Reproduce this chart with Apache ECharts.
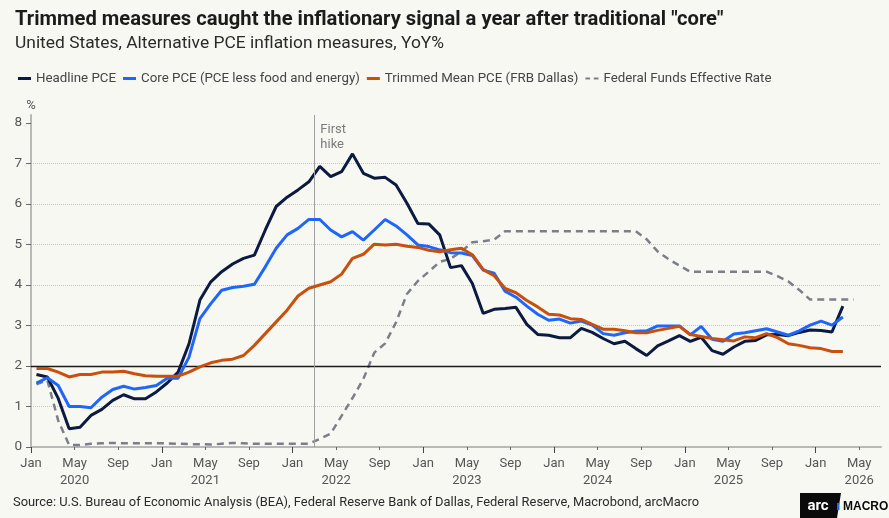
<!DOCTYPE html>
<html>
<head>
<meta charset="utf-8">
<script src="https://cdn.jsdelivr.net/npm/echarts@6/dist/echarts.min.js"></script>
<style>
  html, body { margin: 0; padding: 0; background: #f8f8f3; }
  #chart { width: 889px; height: 518px; }
</style>
</head>
<body>
<div id="chart"></div>
<script>
// Alternative PCE inflation measures vs fed funds, monthly from Jan 2020
const startYear = 2020;
const monthNames = ['Jan','Feb','Mar','Apr','May','Jun','Jul','Aug','Sep','Oct','Nov','Dec'];

// YoY %, Jan 2020 .. Mar 2026
const headline = [
  1.79, 1.73, 1.20, 0.45, 0.49, 0.78, 0.93, 1.15, 1.29, 1.19, 1.19, 1.36,
  1.58, 1.85, 2.55, 3.63, 4.08, 4.33, 4.52, 4.66, 4.74, 5.36, 5.94, 6.17,
  6.35, 6.55, 6.93, 6.68, 6.80, 7.24, 6.76, 6.64, 6.66, 6.47, 6.02, 5.52,
  5.51, 5.24, 4.43, 4.48, 4.04, 3.30, 3.40, 3.42, 3.45, 3.03, 2.78, 2.76,
  2.70, 2.70, 2.93, 2.83, 2.68, 2.55, 2.61, 2.43, 2.26, 2.50, 2.62, 2.75,
  2.61, 2.71, 2.38, 2.29, 2.47, 2.61, 2.63, 2.77, 2.78, 2.75, 2.83, 2.89,
  2.88, 2.84, 3.48
];
const core = [
  1.58, 1.71, 1.52, 1.00, 1.00, 0.97, 1.23, 1.42, 1.50, 1.43, 1.47, 1.52,
  1.70, 1.70, 2.22, 3.17, 3.54, 3.87, 3.94, 3.97, 4.02, 4.45, 4.91, 5.24,
  5.40, 5.62, 5.62, 5.36, 5.19, 5.32, 5.11, 5.36, 5.62, 5.46, 5.24, 4.99,
  4.95, 4.87, 4.80, 4.79, 4.73, 4.37, 4.29, 3.85, 3.70, 3.48, 3.28, 3.13,
  3.16, 3.06, 3.11, 3.01, 2.80, 2.76, 2.82, 2.86, 2.87, 2.99, 2.99, 2.99,
  2.77, 2.98, 2.66, 2.61, 2.79, 2.82, 2.87, 2.92, 2.84, 2.76, 2.87, 3.01,
  3.11, 3.01, 3.21
];
const trimmed = [
  1.94, 1.94, 1.85, 1.73, 1.79, 1.79, 1.85, 1.85, 1.87, 1.81, 1.76, 1.75,
  1.75, 1.75, 1.85, 1.98, 2.08, 2.14, 2.17, 2.26, 2.51, 2.80, 3.09, 3.38,
  3.73, 3.92, 4.00, 4.08, 4.27, 4.66, 4.76, 5.01, 4.99, 5.01, 4.96, 4.93,
  4.86, 4.82, 4.87, 4.91, 4.75, 4.38, 4.23, 3.92, 3.81, 3.62, 3.46, 3.28,
  3.26, 3.17, 3.15, 3.03, 2.91, 2.91, 2.87, 2.82, 2.82, 2.88, 2.93, 2.98,
  2.78, 2.73, 2.68, 2.65, 2.62, 2.72, 2.70, 2.80, 2.70, 2.55, 2.51, 2.45,
  2.43, 2.36, 2.36
];
// %, Jan 2020 .. Apr 2026
const fedFunds = [
  1.55, 1.65, 0.65, 0.05, 0.05, 0.08, 0.09, 0.10, 0.09, 0.09, 0.09, 0.09,
  0.09, 0.08, 0.07, 0.07, 0.06, 0.08, 0.10, 0.09, 0.08, 0.08, 0.08, 0.08,
  0.08, 0.08, 0.20, 0.33, 0.77, 1.21, 1.68, 2.33, 2.56, 3.08, 3.78, 4.10,
  4.33, 4.57, 4.65, 4.83, 5.06, 5.08, 5.12, 5.33, 5.33, 5.33, 5.33, 5.33,
  5.33, 5.33, 5.33, 5.33, 5.33, 5.33, 5.33, 5.33, 5.13, 4.83, 4.64, 4.48,
  4.33, 4.33, 4.33, 4.33, 4.33, 4.33, 4.33, 4.33, 4.22, 4.09, 3.88, 3.64,
  3.64, 3.64, 3.64, 3.64
];
const firstHike = 26;   // months since Jan 2020 -> Mar 2022
const target = 2;
const yTicks = [0, 1, 2, 3, 4, 5, 6, 7, 8];

const monthTicks = [];
const janTicks = [];
for (let m = 0; m <= 76; m += 4) { if (m % 12) monthTicks.push(m); else janTicks.push(m); }

// monthly values plotted mid-month
const pts = arr => arr.map((v, i) => [i + 0.5, v]);

const FONT = 'Roboto, "Liberation Sans", sans-serif';
const chart = echarts.init(document.getElementById('chart'));

const legendNames = ['Headline PCE', 'Core PCE (PCE less food and energy)', 'Trimmed Mean PCE (FRB Dallas)', 'Federal Funds Effective Rate'];

chart.setOption({
  backgroundColor: '#f8f8f3',
  animation: false,
  textStyle: { fontFamily: FONT },
  title: {
    text: 'Trimmed measures caught the inflationary signal a year after traditional "core"',
    left: 10, top: 5,
    textStyle: { fontFamily: FONT, fontWeight: 'bold', fontSize: 20.2, color: '#1b1b1b' },
    subtext: 'United States, Alternative PCE inflation measures, YoY%',
    subtextStyle: { fontFamily: FONT, fontSize: 17.4, color: '#2a2a2a' },
    itemGap: 5
  },
  legend: {
    left: 13, top: 67,
    itemWidth: 13, itemHeight: 3, itemGap: 7,
    textStyle: { color: '#444', fontSize: 13.3, fontFamily: FONT },
    data: [
      { name: legendNames[0], icon: 'rect' },
      { name: legendNames[1], icon: 'rect' },
      { name: legendNames[2], icon: 'rect' },
      { name: legendNames[3], icon: 'path://M0,0h5v2h-5z M9,0h5v2h-5z' }
    ]
  },
  grid: { left: 31, right: 8, top: 115, bottom: 71 },
  xAxis: [{
    type: 'value', min: 0, max: 78, interval: 4, position: 'bottom',
    axisLine: { lineStyle: { color: '#b8b8b8', width: 2 } },
    axisTick: { length: 3, customValues: monthTicks, lineStyle: { color: '#666' } },
    axisLabel: {
      customValues: monthTicks.concat(janTicks).sort((a, b) => a - b),
      color: '#555', fontSize: 13, lineHeight: 17, margin: 8,
      formatter: v => {
        if (v % 4) return '';
        const m = v % 12;
        return monthNames[m] + (m === 4 ? '\n' + (startYear + Math.floor(v / 12)) : '');
      }
    },
    splitLine: { show: false }
  }, {
    type: 'value', min: 0, max: 78, interval: 12, position: 'bottom',
    axisLine: { show: false },
    axisTick: { length: 6, customValues: janTicks, lineStyle: { color: '#444' } },
    axisLabel: { show: false },
    splitLine: { show: false }
  }],
  yAxis: {
    type: 'value', min: 0, max: 8.2, interval: 1,
    name: '%', nameLocation: 'end', nameGap: 3,
    nameTextStyle: { color: '#555', fontSize: 13, align: 'center' },
    axisLine: { show: true, lineStyle: { color: '#b8b8b8', width: 2 } },
    axisTick: { show: true, length: 5, customValues: yTicks, lineStyle: { color: '#666' } },
    axisLabel: { customValues: yTicks, color: '#555', fontSize: 13.5, margin: 9 },
    splitLine: { show: true, showMaxLine: false, lineStyle: { type: 'dotted', color: '#c6c6c6' } }
  },
  series: [
    {
      name: legendNames[0], type: 'line', data: pts(headline), symbol: 'none', z: 4,
      lineStyle: { color: '#0b1a40', width: 3 }, itemStyle: { color: '#0b1a40' },
      markLine: {
        silent: true, symbol: 'none', label: { show: false },
        data: [
          { yAxis: target, lineStyle: { color: '#1a1a1a', width: 1.3, type: 'solid' } },
          { xAxis: firstHike, lineStyle: { color: '#a0a0a0', width: 1, type: 'solid' } }
        ]
      },
      markPoint: {
        silent: true, symbolSize: 0,
        label: { show: true, position: 'right', distance: 6, formatter: 'First\nhike', color: '#7a7a7a', fontSize: 13, lineHeight: 15, align: 'left' },
        data: [{ coord: [firstHike, 7.65] }]
      }
    },
    {
      name: legendNames[1], type: 'line', data: pts(core), symbol: 'none', z: 5,
      lineStyle: { color: '#1f66ff', width: 3 }, itemStyle: { color: '#1f66ff' }
    },
    {
      name: legendNames[2], type: 'line', data: pts(trimmed), symbol: 'none', z: 6,
      lineStyle: { color: '#c9500c', width: 3 }, itemStyle: { color: '#c9500c' }
    },
    {
      name: legendNames[3], type: 'line', data: pts(fedFunds), symbol: 'none', z: 3,
      lineStyle: { color: '#7c7e88', width: 2.5, type: [7, 5] }, itemStyle: { color: '#7c7e88' }
    }
  ],
  graphic: [
    {
      type: 'text', left: 13, top: 496,
      style: { text: 'Source: U.S. Bureau of Economic Analysis (BEA), Federal Reserve Bank of Dallas, Federal Reserve, Macrobond, arcMacro',
        fill: '#2a2a2a', fontSize: 12.9, fontFamily: FONT }
    },
    {
      type: 'polygon',
      shape: { points: [[800, 493], [841, 493], [837, 518], [800, 518]] },
      style: { fill: '#0a0a0a' }
    },
    {
      type: 'text', x: 818, y: 506,
      style: { text: 'arc', fill: '#ffffff', fontSize: 15, fontWeight: 'bold', fontFamily: FONT, align: 'center', verticalAlign: 'middle' }
    },
    {
      type: 'rect', shape: { x: 837, y: 503, width: 2.5, height: 7 },
      style: { fill: '#1f66ff' }
    },
    {
      type: 'text', x: 843, y: 507,
      style: { text: 'MACRO', fill: '#0a0a0a', fontSize: 12, fontWeight: 'bold', fontFamily: '"Liberation Sans", Arial, sans-serif', verticalAlign: 'middle' }
    }
  ]
});
</script>
</body>
</html>
